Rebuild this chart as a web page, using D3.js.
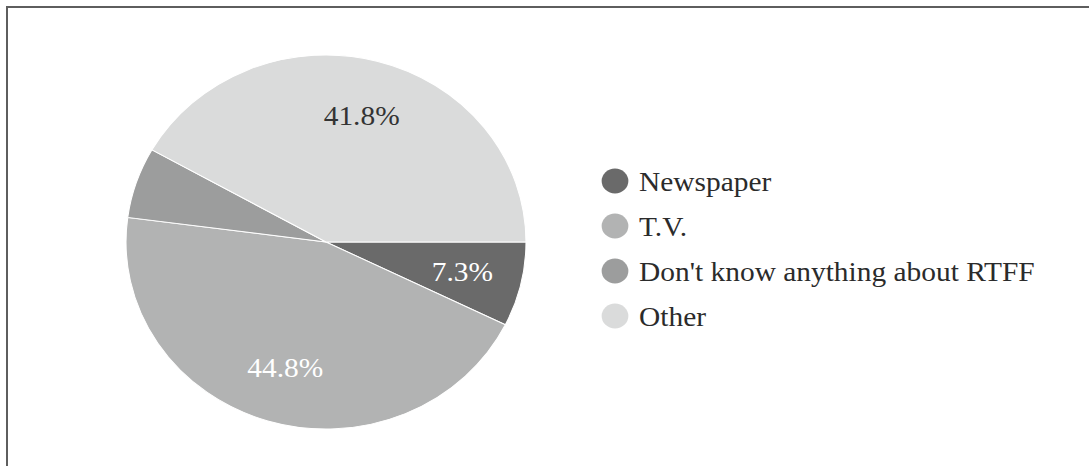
<!DOCTYPE html>
<html>
<head>
<meta charset="utf-8">
<script src="https://cdn.jsdelivr.net/npm/d3@7"></script>
<style>
  html, body { margin: 0; padding: 0; background: #ffffff; }
  svg { display: block; }
  text { font-family: "Liberation Serif", "Times New Roman", serif; }
</style>
</head>
<body>
<script>
// Where viewers heard about RTFF (share of respondents)
const categories = ["Newspaper", "T.V.", "Don't know anything about RTFF", "Other"];
const shares = [7.3, 44.8, 6.1, 41.8];
const sliceLabels = ["7.3%", "44.8%", "", "41.8%"];
const colors = ["#6a6a6a", "#b2b3b3", "#9c9d9d", "#dadbdb"];
const labelColors = ["#ffffff", "#ffffff", "#ffffff", "#333333"];

const W = 1089, H = 466;
const sx = 1.0695; // chart area is drawn slightly wider than tall

const svg = d3.select("body").append("svg")
  .attr("width", W).attr("height", H);

// frame along the top and left edges
svg.append("path")
  .attr("d", `M7,${H} L7,7 L${W},7`)
  .attr("fill", "none")
  .attr("stroke", "#5e5e5e")
  .attr("stroke-width", 2);

const g = svg.append("g").attr("transform", `scale(${sx},1)`);

const R = 187;
const cx = 326 / sx, cy = 242;

const pie = d3.pie().sort(null).value(d => d)
  .startAngle(Math.PI / 2).endAngle(Math.PI / 2 + 2 * Math.PI);
const arcs = pie(shares);
const arc = d3.arc().innerRadius(0).outerRadius(R);
const labelArc = d3.arc().innerRadius(R * 0.7).outerRadius(R * 0.7);

const pieG = g.append("g").attr("transform", `translate(${cx},${cy})`);
pieG.selectAll("path.slice").data(arcs).join("path")
  .attr("class", "slice")
  .attr("d", arc)
  .attr("fill", (d, i) => colors[i])
  .attr("stroke", "#ffffff")
  .attr("stroke-width", 1);

pieG.selectAll("text.pct").data(arcs).join("text")
  .attr("class", "pct")
  .attr("transform", d => `translate(${labelArc.centroid(d)})`)
  .attr("text-anchor", "middle")
  .attr("dy", "0.35em")
  .attr("font-size", 27.5)
  .attr("fill", (d, i) => labelColors[i])
  .text((d, i) => sliceLabels[i]);

// legend
const ly = d3.scalePoint().domain(categories).range([181, 316]);
const lx = 615 / sx;
const leg = g.append("g");
const item = leg.selectAll("g").data(categories).join("g")
  .attr("transform", d => `translate(${lx},${ly(d)})`);
item.append("circle")
  .attr("r", 12.5)
  .attr("fill", (d, i) => colors[i]);
item.append("text")
  .attr("x", 22.5)
  .attr("dy", "0.35em")
  .attr("font-size", 27.5)
  .attr("fill", "#2b2b2b")
  .text(d => d);
</script>
</body>
</html>
